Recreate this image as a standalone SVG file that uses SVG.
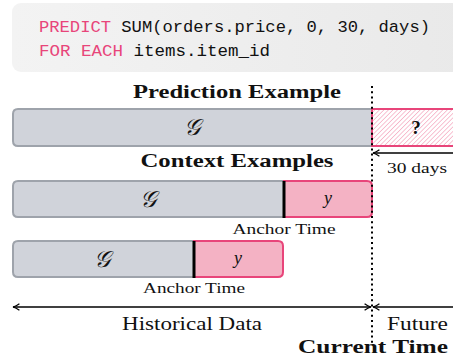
<svg xmlns="http://www.w3.org/2000/svg" width="453" height="356" viewBox="0 0 453 356">
<style>
.code{font-family:"Liberation Mono","DejaVu Sans Mono",monospace;font-size:17.2px;fill:#111}
.kw{fill:#e8457a}
.title{font-family:"Liberation Serif","DejaVu Serif",serif;font-weight:bold;font-size:18px;fill:#111;text-anchor:middle}
.lbl{font-family:"Liberation Serif","DejaVu Serif",serif;font-size:15px;fill:#111;text-anchor:middle}
.big{font-family:"Liberation Serif","DejaVu Serif",serif;font-size:18.5px;fill:#111;text-anchor:middle}
.math{font-family:"DejaVu Serif","Liberation Serif",serif;font-style:italic;font-size:23px;fill:#111;text-anchor:middle}
.y{font-family:"Liberation Serif","DejaVu Serif",serif;font-style:italic;font-size:18px;fill:#111;text-anchor:middle}
.gray{fill:#d0d3da;stroke:#9ea3ab;stroke-width:2}
.pink{fill:#f4b2c4;stroke:#e8457a;stroke-width:2}
.anchor{stroke:#000;stroke-width:3}
.arr{stroke:#000;stroke-width:1.6;fill:none}
</style>
<defs>
<linearGradient id="cg" x1="0" y1="0" x2="1" y2="0">
<stop offset="0" stop-color="#f3f3f3"/><stop offset="1" stop-color="#e9e9e9"/>
</linearGradient>
<pattern id="hatch" width="3.2" height="3.2" patternUnits="userSpaceOnUse" patternTransform="rotate(45)">
<rect width="3.2" height="3.2" fill="#fff"/>
<line x1="0" y1="0" x2="0" y2="3.2" stroke="#f07a9e" stroke-width="0.9"/>
</pattern>
<marker id="ah" viewBox="0 0 10 10" refX="9" refY="5" markerWidth="8" markerHeight="8" orient="auto-start-reverse" markerUnits="userSpaceOnUse">
<path d="M1,1 Q5,4 9,5 Q5,6 1,9" fill="none" stroke="#000" stroke-width="1.6"/>
</marker>
</defs>
<g id="code">
<rect x="12" y="3" width="460" height="69" rx="9" fill="url(#cg)"/>
<text class="code" x="39" y="32" textLength="391" lengthAdjust="spacingAndGlyphs"><tspan class="kw">PREDICT</tspan> SUM(orders.price, 0, 30, days)</text>
<text class="code" x="39" y="56" textLength="231" lengthAdjust="spacingAndGlyphs"><tspan class="kw">FOR EACH</tspan> items.item_id</text>
</g>
<text class="title" x="237" y="98" textLength="208" lengthAdjust="spacingAndGlyphs">Prediction Example</text>
<g id="prediction">
<path class="gray" d="M372,109 H18 Q13,109 13,114 V141 Q13,146 18,146 H372 Z"/>
<rect x="372" y="109" width="90" height="37" fill="url(#hatch)" stroke="#e8457a" stroke-width="2"/>
<text class="math" x="192" y="135">𝒢</text>
<text class="title" x="416" y="134" style="font-size:19px">?</text>
</g>
<text class="title" x="237" y="167" textLength="193" lengthAdjust="spacingAndGlyphs">Context Examples</text>
<g id="context1">
<path class="gray" d="M284,181 H18 Q13,181 13,186 V212 Q13,217 18,217 H284 Z"/>
<path class="pink" d="M284,181 H367 Q372,181 372,186 V212 Q372,217 367,217 H284 Z"/>
<line class="anchor" x1="284" y1="181" x2="284" y2="218"/>
<text class="math" x="148" y="207">𝒢</text>
<text class="y" x="328" y="204">y</text>
<text class="lbl" x="284" y="234" textLength="103" lengthAdjust="spacingAndGlyphs">Anchor Time</text>
</g>
<g id="context2">
<path class="gray" d="M194,241 H18 Q13,241 13,246 V272 Q13,277 18,277 H194 Z"/>
<path class="pink" d="M194,241 H278 Q283,241 283,246 V272 Q283,277 278,277 H194 Z"/>
<line class="anchor" x1="194" y1="241" x2="194" y2="278"/>
<text class="math" x="102" y="267">𝒢</text>
<text class="y" x="238" y="264">y</text>
<text class="lbl" x="194" y="293" textLength="102" lengthAdjust="spacingAndGlyphs">Anchor Time</text>
</g>
<g id="connectors">
<line x1="372" y1="86" x2="372" y2="345" stroke="#000" stroke-width="2" stroke-dasharray="2,3.2"/>
<line class="arr" x1="373" y1="153" x2="460" y2="153" marker-start="url(#ah)"/>
<line class="arr" x1="13" y1="307" x2="371" y2="307" marker-start="url(#ah)" marker-end="url(#ah)"/>
<line class="arr" x1="373" y1="307" x2="460" y2="307" marker-start="url(#ah)"/>
</g>
<text class="lbl" x="387" y="173" textLength="60" lengthAdjust="spacingAndGlyphs" style="text-anchor:start">30 days</text>
<text class="big" x="192" y="330" textLength="140" lengthAdjust="spacingAndGlyphs">Historical Data</text>
<text class="big" x="387" y="330" textLength="61" lengthAdjust="spacingAndGlyphs" style="text-anchor:start">Future</text>
<text class="title" x="373" y="353" textLength="150" lengthAdjust="spacingAndGlyphs">Current Time</text>
</svg>
